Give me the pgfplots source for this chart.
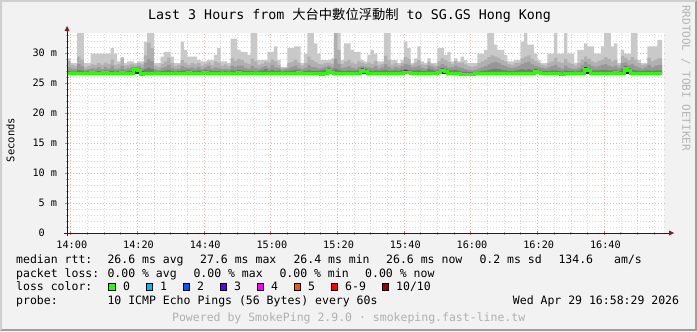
\documentclass[border=0pt]{standalone}
\usepackage{fontspec}
\usepackage{pgfplots}
\pgfplotsset{compat=1.18}
\usepackage{pgfplotstable}
\setmainfont{DejaVu Sans Mono}
\newfontfamily\cjk{Noto Sans CJK TC}
\definecolor{bg}{HTML}{F2F2F2}
\definecolor{shadea}{HTML}{CFCFCF}
\definecolor{shadeb}{HTML}{9E9E9E}
\definecolor{gridc}{RGB}{143,143,143}
\definecolor{mgridc}{RGB}{222,79,79}
\definecolor{arrowc}{RGB}{128,31,31}
\definecolor{axisc}{RGB}{31,31,31}
\definecolor{sA}{HTML}{C9C9C9}
\definecolor{sB}{HTML}{B0B0B0}
\definecolor{sC}{HTML}{979797}
\definecolor{sD}{HTML}{7A7A7A}
\definecolor{sE}{HTML}{2A2A2A}
\definecolor{lc0}{HTML}{26FF00}
\definecolor{lc1}{HTML}{00B8FF}
\definecolor{lc2}{HTML}{0059FF}
\definecolor{lc3}{HTML}{5E00FF}
\definecolor{lc4}{HTML}{FF00FF}
\definecolor{lc5}{HTML}{FF5500}
\definecolor{lc6}{HTML}{FF0000}
\definecolor{lc10}{HTML}{A10000}
\definecolor{wm}{HTML}{B4B4B4}
\definecolor{foot}{HTML}{B0B0B0}
\newcommand{\fs}[1]{\fontsize{#1}{#1}\selectfont}

\pgfplotstableread{
t L1 L2 L3 L4 L5 med
-1.05 29.1 28.6 27.6 27.0 26.5 26.6
0 28.3 28.0 27.4 26.9 26.5 26.6
1 28.3 27.8 27.3 26.9 26.5 26.6
2 33.3 29.4 28.2 27.2 26.5 26.6
3 33.3 28.9 27.8 27.1 26.5 26.6
4 28.3 27.6 27.2 26.9 26.5 26.6
5 28.3 27.8 27.3 27.0 26.5 26.6
6 29.9 28.1 27.5 27.0 26.5 26.7
7 29.9 28.0 27.4 26.9 26.5 26.6
8 29.9 28.3 27.6 27.0 26.5 26.6
9 29.9 28.0 27.3 26.9 26.5 26.6
10 29.9 28.4 27.7 27.1 26.5 26.7
11 29.9 28.2 27.4 27.0 26.5 26.6
12 30.8 28.9 27.9 27.1 26.5 26.6
13 29.9 28.0 27.3 26.9 26.5 26.6
14 28.6 28.1 27.4 27.0 26.5 26.6
15 29.3 29.1 27.8 27.1 26.5 26.7
16 28.3 27.9 27.3 26.9 26.5 26.6
17 28.6 28.0 27.5 27.0 26.5 26.6
18 28.6 28.2 27.7 27.1 26.5 26.6
19 28.3 28.0 27.6 27.3 27.5 27.2
20 28.6 28.3 27.8 27.4 27.3 27.0
21 28.6 28.1 27.5 27.0 26.9 26.4
22 31.9 29.6 28.4 27.3 26.5 26.6
23 33.3 31.7 29.0 27.5 26.5 26.6
24 33.3 30.8 28.6 27.3 26.5 26.6
25 28.3 27.9 27.3 26.9 26.5 26.6
26 28.3 27.7 27.2 26.9 26.5 26.6
27 29.4 28.2 27.5 27.0 26.5 26.6
28 30.2 28.6 27.7 27.1 26.5 26.6
29 30.2 29.2 28.0 27.2 26.5 26.6
30 29.4 28.3 27.5 27.0 26.5 26.6
31 28.3 27.8 27.3 26.9 26.5 26.6
32 28.3 28.0 27.4 27.0 26.5 26.6
33 31.9 28.8 27.8 27.1 26.5 26.6
34 30.5 28.4 27.6 27.1 26.5 26.6
35 29.4 28.0 27.5 27.2 26.5 26.8
36 29.4 28.3 27.6 27.0 26.5 26.6
37 29.4 28.1 27.4 27.0 26.5 26.6
38 28.8 28.3 27.7 27.1 26.5 26.6
39 28.6 27.9 27.3 26.9 26.5 26.6
40 28.6 28.2 27.6 27.2 26.5 26.8
41 28.8 28.4 27.8 27.1 26.5 26.6
42 28.8 28.0 27.4 27.0 26.5 26.6
43 29.7 28.6 27.6 27.0 26.5 26.6
44 30.8 28.4 27.5 27.0 26.5 26.6
45 28.6 27.9 27.3 26.9 26.5 26.6
46 28.6 28.1 27.4 27.0 26.5 26.6
47 28.3 27.8 27.3 26.9 26.5 26.6
48 32.4 29.1 27.9 27.1 26.5 26.6
49 32.4 28.7 27.7 27.0 26.5 26.6
50 30.5 29.0 27.9 27.2 27.0 26.7
51 30.2 28.8 27.9 27.1 26.5 26.6
52 30.2 28.4 27.5 27.0 26.5 26.6
53 29.7 28.2 27.4 27.0 26.5 26.6
54 33.3 29.0 27.8 27.0 26.5 26.5
55 33.3 28.6 27.5 26.9 26.5 26.6
56 28.8 28.0 27.4 27.0 26.5 26.6
57 28.8 28.2 27.6 27.1 26.5 26.6
58 28.8 28.5 27.8 27.3 26.5 26.6
59 30.2 28.4 27.5 27.0 26.5 26.6
60 30.2 28.9 28.0 27.2 26.5 26.6
61 31.1 28.6 27.6 27.0 26.5 26.6
62 28.8 28.0 27.5 27.1 26.5 26.6
63 27.7 27.5 27.2 26.9 26.5 26.6
64 27.7 27.5 27.3 27.0 26.5 26.6
65 30.8 28.3 27.5 27.0 26.5 26.6
66 30.8 28.5 27.7 27.1 26.5 26.6
67 31.1 28.9 27.9 27.2 26.5 26.6
68 31.1 28.4 27.5 27.1 26.5 26.8
69 28.3 27.9 27.3 26.9 26.5 26.6
70 29.9 28.3 27.5 27.0 26.5 26.6
71 33.3 29.4 28.0 27.1 26.5 26.6
72 33.3 28.8 27.7 27.0 26.5 26.6
73 31.6 28.5 27.6 27.0 26.5 26.6
74 29.9 28.2 27.4 27.0 26.5 26.6
75 28.8 28.1 27.5 27.1 26.5 26.4
76 28.8 28.3 27.7 27.2 26.5 26.6
77 28.8 28.4 27.9 27.5 27.3 27.0
78 29.1 28.2 27.6 27.1 26.9 26.7
79 33.3 33.3 29.0 27.4 26.5 26.6
80 33.3 30.5 28.2 27.2 26.5 26.6
81 28.8 28.2 27.5 27.0 26.5 26.6
82 31.6 28.6 27.6 27.0 26.5 26.6
83 31.6 28.9 27.8 27.1 26.5 26.6
84 30.5 28.4 27.5 27.0 26.5 26.6
85 30.2 28.2 27.4 27.0 26.5 26.6
86 30.2 28.6 27.7 27.1 26.5 26.6
87 28.8 28.4 27.8 27.5 27.4 27.1
88 28.6 28.2 27.7 27.3 27.2 26.9
89 29.7 28.4 27.6 27.1 26.5 26.6
90 30.5 28.2 27.5 27.0 26.5 26.6
91 29.9 28.7 27.8 27.1 26.5 26.6
92 28.6 28.0 27.4 27.0 26.5 26.6
93 28.6 28.2 27.6 27.1 26.5 26.6
94 33.3 29.5 28.1 27.2 26.5 26.6
95 33.3 28.8 27.7 27.0 26.5 26.6
96 28.8 28.0 27.4 27.0 26.5 26.6
97 28.8 28.3 27.7 27.1 26.5 26.6
98 28.3 28.0 27.5 27.0 26.5 26.6
99 28.8 28.3 27.8 27.2 26.5 26.6
100 31.9 29.3 28.2 27.3 27.1 26.8
101 30.8 29.0 28.0 27.2 26.5 26.7
102 28.3 28.0 27.6 27.1 26.5 26.6
103 29.1 28.4 27.7 27.1 26.5 26.6
104 31.1 28.8 27.9 27.2 26.5 26.6
105 28.6 28.1 27.5 27.0 26.5 26.6
106 28.3 28.0 27.4 27.0 26.5 26.6
107 29.1 28.5 27.9 27.3 26.5 26.6
108 28.3 28.1 27.7 27.2 26.5 26.6
109 28.3 27.9 27.4 27.0 26.5 26.6
110 30.8 28.6 27.8 27.2 26.5 26.7
111 30.8 29.1 28.2 27.4 27.4 27.1
112 29.7 28.8 27.9 27.3 27.2 26.9
113 30.2 28.5 27.6 27.1 26.5 26.6
114 28.6 28.2 27.6 27.1 26.5 26.6
115 29.1 28.7 27.9 27.2 26.5 26.6
116 28.6 28.3 27.6 27.0 26.5 26.6
117 29.4 28.4 27.5 26.9 26.5 26.4
118 28.8 28.1 27.3 26.9 26.5 26.4
119 28.3 27.8 27.2 26.8 26.5 26.4
120 28.3 27.7 27.1 26.8 26.5 26.4
121 28.3 27.8 27.2 26.8 26.5 26.5
122 29.9 28.3 27.4 26.9 26.5 26.5
123 29.9 28.6 27.6 27.0 26.5 26.5
124 30.5 28.9 27.8 27.1 26.5 26.6
125 33.3 29.3 28.1 27.2 26.5 26.6
126 33.3 29.6 28.4 27.3 26.5 26.6
127 31.4 29.4 28.5 27.4 26.5 26.6
128 30.5 29.2 28.3 27.3 26.5 26.6
129 30.5 28.8 28.0 27.2 26.5 26.6
130 29.7 28.6 27.8 27.1 26.5 26.6
131 28.6 28.2 27.6 27.0 26.5 26.6
132 28.6 28.0 27.5 27.0 26.5 26.6
133 28.8 28.3 27.6 27.1 26.5 26.6
134 28.8 28.4 27.8 27.2 26.5 26.6
135 31.9 29.1 28.2 27.3 26.5 26.6
136 33.3 29.4 28.4 27.2 26.5 26.5
137 31.4 29.6 28.5 27.3 26.5 26.6
138 31.4 29.0 28.1 27.2 26.5 26.6
139 29.9 28.7 27.9 27.4 27.2 26.9
140 28.8 28.3 27.7 27.2 26.5 26.7
141 28.3 28.0 27.5 27.0 26.5 26.6
142 28.3 27.9 27.4 27.0 26.5 26.6
143 29.9 28.4 27.6 27.0 26.5 26.6
144 29.9 28.6 27.8 27.1 26.5 26.6
145 33.3 29.2 28.0 27.1 26.5 26.6
146 29.9 28.5 27.6 27.0 26.5 26.6
147 29.9 28.3 27.4 26.9 26.5 26.4
148 33.3 29.0 27.9 27.1 26.5 26.6
149 29.9 28.4 27.5 27.0 26.5 26.6
150 29.9 28.2 27.4 27.0 26.5 26.6
151 28.3 27.9 27.3 26.9 26.5 26.6
152 30.5 28.3 27.5 27.0 26.5 26.6
153 30.5 28.9 28.0 27.3 26.5 26.6
154 31.6 29.4 28.5 27.7 27.6 27.3
155 31.1 29.0 28.1 27.4 27.3 27.0
156 31.1 28.6 27.8 27.1 26.5 26.6
157 29.9 28.4 27.6 27.1 26.5 26.6
158 29.9 28.7 27.8 27.1 26.5 26.6
159 31.1 28.9 28.0 27.2 26.5 26.6
160 33.3 29.3 28.2 27.2 26.5 26.6
161 33.3 29.0 27.9 27.1 26.5 26.6
162 31.1 28.6 27.7 27.1 26.5 26.6
163 31.6 28.9 27.9 27.2 26.5 26.7
164 28.3 28.0 27.5 27.0 26.5 26.6
165 30.5 29.5 28.3 27.4 26.5 26.6
166 29.9 29.2 28.4 27.8 27.7 27.4
167 29.9 28.8 28.0 27.3 27.4 27.1
168 33.3 29.3 28.2 27.2 26.5 26.6
169 33.3 28.9 27.8 27.1 26.5 26.6
170 28.8 28.3 27.6 27.0 26.5 26.6
171 28.3 28.0 27.4 27.0 26.5 26.6
172 28.3 28.1 27.6 27.1 26.5 26.6
173 31.1 29.2 28.0 27.1 26.5 26.6
174 31.1 28.6 27.6 27.0 26.5 26.6
175 31.1 28.9 27.9 27.1 26.5 26.6
176 32.2 29.1 28.0 27.1 26.5 26.6
177 32.2 29.1 28.0 27.1 26.5 26.6
177.4 32.2 29.1 28.0 27.1 26.5 26.6
}\smoke

\begin{document}
\begin{tikzpicture}[x=1bp,y=1bp]
% background and frame
\fill[bg] (0,0) rectangle (697,331);
\fill[shadea] (0,0) -- (0,331) -- (697,331) -- (695,329) -- (2,329) -- (2,2) -- cycle;
\fill[shadeb] (0,0) -- (697,0) -- (697,331) -- (695,329) -- (695,2) -- (2,2) -- cycle;
\useasboundingbox (0,0) rectangle (697,331);

\begin{axis}[
  at={(67bp,98bp)}, anchor=south west,
  scale only axis, width=597.1bp, height=200.4bp,
  xmin=-1.05, xmax=178, ymin=0, ymax=33.4,
  axis background/.style={fill=white},
  axis line style={draw=none},
  xtick={0,20,...,160},
  xticklabels={14:00,14:20,14:40,15:00,15:20,15:40,16:00,16:20,16:40},
  minor xtick={5,10,15,25,30,35,45,50,55,65,70,75,85,90,95,105,110,115,125,130,135,145,150,155,165,170,175},
  ytick={0,5,...,30},
  yticklabels={0\phantom{mm},5 m,10 m,15 m,20 m,25 m,30 m},
  minor ytick={1,2,3,4,6,7,8,9,11,12,13,14,16,17,18,19,21,22,23,24,26,27,28,29,31,32,33},
  grid=both,
  major grid style={draw=mgridc, opacity=0.45, line width=0.5bp, dash pattern=on 1bp off 2bp},
  minor grid style={draw=gridc, opacity=0.35, line width=0.45bp, dash pattern=on 1bp off 2bp},
  xtick pos=bottom, ytick pos=left, tick align=center,
  major tick length=4bp, minor tick length=3bp,
  major tick style={draw=mgridc, line width=0.7bp, opacity=0.8},
  minor tick style={draw=gridc, line width=0.6bp, opacity=0.7},
  xticklabel style={font=\fs{10.2bp}, anchor=center, inner sep=0pt, yshift=-9.7bp, xshift=1.3bp},
  yticklabel style={font=\fs{10.2bp}, anchor=east, inner sep=0pt, xshift=-7.7bp},
]
\addplot[const plot, fill=sA, draw=none] table[x=t,y=L1]{\smoke} -- (axis cs:177.4,26.5) -- (axis cs:-1.05,26.5) -- cycle;
\addplot[const plot, fill=sB, draw=none] table[x=t,y=L2]{\smoke} -- (axis cs:177.4,26.5) -- (axis cs:-1.05,26.5) -- cycle;
\addplot[const plot, fill=sC, draw=none] table[x=t,y=L3]{\smoke} -- (axis cs:177.4,26.5) -- (axis cs:-1.05,26.5) -- cycle;
\addplot[const plot, fill=sD, draw=none] table[x=t,y=L4]{\smoke} -- (axis cs:177.4,26.5) -- (axis cs:-1.05,26.5) -- cycle;
\addplot[const plot, fill=sE, draw=none] table[x=t,y=L5]{\smoke} -- (axis cs:177.4,26.5) -- (axis cs:-1.05,26.5) -- cycle;
\addplot[const plot, draw=lc0, line width=3bp] table[x=t,y=med]{\smoke};
\end{axis}

% axis lines with arrows
\draw[axisc, line width=1bp] (64,98) -- (669.5,98);
\fill[arrowc] (674,98) -- (669,95.5) -- (669,100.5) -- cycle;
\draw[axisc, line width=1bp] (67,95) -- (67,300.5);
\fill[arrowc] (67,305) -- (64.5,300) -- (69.5,300) -- cycle;

% title
\node[anchor=base west, inner sep=0pt, font=\fs{13.3bp}] at (148,312) {Last 3 Hours from {\cjk 大台中數位浮動制} to SG.GS Hong Kong};
% y label
\node[rotate=90, inner sep=0pt, font=\fs{10.5bp}] at (10.5,191) {Seconds};
% watermark
\node[rotate=-90, anchor=west, inner sep=0pt, font=\fs{11bp}, text=wm] at (686,326) {RRDTOOL / TOBI OETIKER};

% legend rows
\begin{scope}[every node/.style={anchor=base west, inner sep=0pt, font=\fs{11.5bp}}]
\node at (16,67.7) {median rtt:};
\node at (107.3,67.7) {26.6 ms avg};
\node at (200,67.7) {27.6 ms max};
\node at (293.3,67.7) {26.4 ms min};
\node at (386,67.7) {26.6 ms now};
\node at (479.3,67.7) {0.2 ms sd};
\node at (558.3,67.7) {134.6};
\node at (614,67.7) {am/s};
\node at (16,54) {packet loss:};
\node at (107.3,54) {0.00 \% avg};
\node at (193.3,54) {0.00 \% max};
\node at (279.3,54) {0.00 \% min};
\node at (365,54) {0.00 \% now};
\node at (16,40.2) {loss color:};
\node at (123,40.2) {0};
\node at (160,40.2) {1};
\node at (197,40.2) {2};
\node at (234,40.2) {3};
\node at (271,40.2) {4};
\node at (308,40.2) {5};
\node at (345,40.2) {6-9};
\node at (396,40.2) {10/10};
\node at (16,26.4) {probe:};
\node at (107.3,26.4) {10 ICMP Echo Pings (56 Bytes) every 60s};
\node at (512.7,26.4) {Wed Apr 29 16:58:29 2026};
\end{scope}
\begin{scope}[draw=black, line width=0.8bp]
\filldraw[fill=lc0] (108.7,40.6) rectangle +(6.6,6.6);
\filldraw[fill=lc1] (146.1,40.6) rectangle +(6.6,6.6);
\filldraw[fill=lc2] (183.1,40.6) rectangle +(6.6,6.6);
\filldraw[fill=lc3] (220.1,40.6) rectangle +(6.6,6.6);
\filldraw[fill=lc4] (257.1,40.6) rectangle +(6.6,6.6);
\filldraw[fill=lc5] (294.1,40.6) rectangle +(6.6,6.6);
\filldraw[fill=lc6] (331.1,40.6) rectangle +(6.6,6.6);
\filldraw[fill=lc10] (382.1,40.6) rectangle +(6.6,6.6);
\end{scope}
% footer
\node[anchor=base, inner sep=0pt, font=\fs{11.5bp}, text=foot] at (348.7,9.3) {Powered by SmokePing 2.9.0 · smokeping.fast-line.tw};
\end{tikzpicture}
\end{document}
